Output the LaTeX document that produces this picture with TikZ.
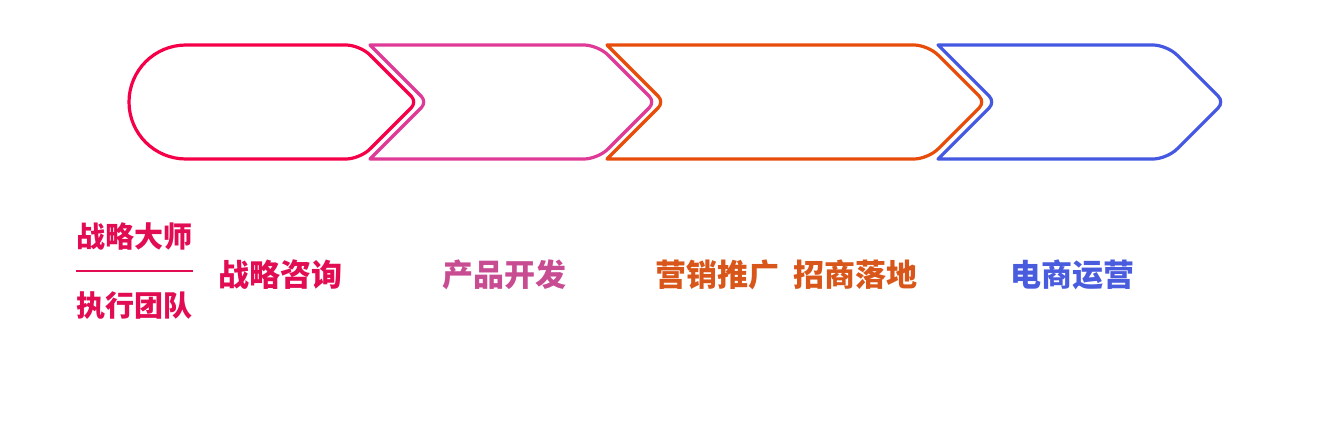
\documentclass[tikz,border=0pt]{standalone}
\usepackage{fontspec}
\newfontfamily\cjk{Noto Sans CJK SC}
\definecolor{cRed}{RGB}{245,0,72}
\definecolor{cPink}{RGB}{222,58,150}
\definecolor{cOrange}{RGB}{232,76,10}
\definecolor{cBlue}{RGB}{68,88,226}
\definecolor{tRed}{RGB}{226,12,82}
\definecolor{tPink}{RGB}{200,76,146}
\definecolor{tOrange}{RGB}{216,86,26}
\definecolor{tBlue}{RGB}{74,92,222}
\tikzset{
  chev/.style={line width=3.2pt, line join=round},
  big/.style={inner sep=0pt, anchor=base, font=\cjk\bfseries\fontsize{31}{31}\selectfont},
  small/.style={inner sep=0pt, anchor=base, font=\cjk\bfseries\fontsize{29}{29}\selectfont},
}
\begin{document}
\begin{tikzpicture}[x=1pt,y=-1pt]
\useasboundingbox (0,0) rectangle (1324,428);
% shape 1
\draw[chev, cRed] (186,45) [rounded corners=14] -- (360,45) [rounded corners=8] -- (417,102) [rounded corners=14] -- (360,159) [sharp corners] -- (186,159) arc[start angle=90, end angle=270, radius=57] -- cycle;
% shape 2
\draw[chev, cPink] (370,45) [rounded corners=14] -- (598,45) [rounded corners=8] -- (655,102) [rounded corners=14] -- (598,159) [sharp corners] -- (370,159) [rounded corners=8] -- (427,102) [sharp corners] -- cycle;
% shape 3
\draw[chev, cOrange] (607,45) [rounded corners=14] -- (928,45) [rounded corners=8] -- (985,102) [rounded corners=14] -- (928,159) [sharp corners] -- (607,159) [rounded corners=8] -- (664,102) [sharp corners] -- cycle;
% shape 4
\draw[chev, cBlue] (938,45) [rounded corners=14] -- (1167,45) [rounded corners=8] -- (1224,102) [rounded corners=14] -- (1167,159) [sharp corners] -- (938,159) [rounded corners=8] -- (995,102) [sharp corners] -- cycle;
% texts
\node[small, text=tRed] (master) at (134.5,247) {战略大师};
\node[small, text=tRed] (team) at (134.5,316) {执行团队};
\coordinate (la) at (76,271);
\coordinate (lb) at (193,271);
\draw[tRed, line width=1.5pt] (la) -- (lb);
\node[big, text=tRed] (t1) at (280.5,286) {战略咨询};
\node[big, text=tPink] (t2) at (504,286) {产品开发};
\node[big, text=tOrange] (t3) at (717,286) {营销推广};
\node[big, text=tOrange] (t4) at (855.5,286) {招商落地};
\node[big, text=tBlue] (t5) at (1072.5,286) {电商运营};
\end{tikzpicture}
\end{document}
